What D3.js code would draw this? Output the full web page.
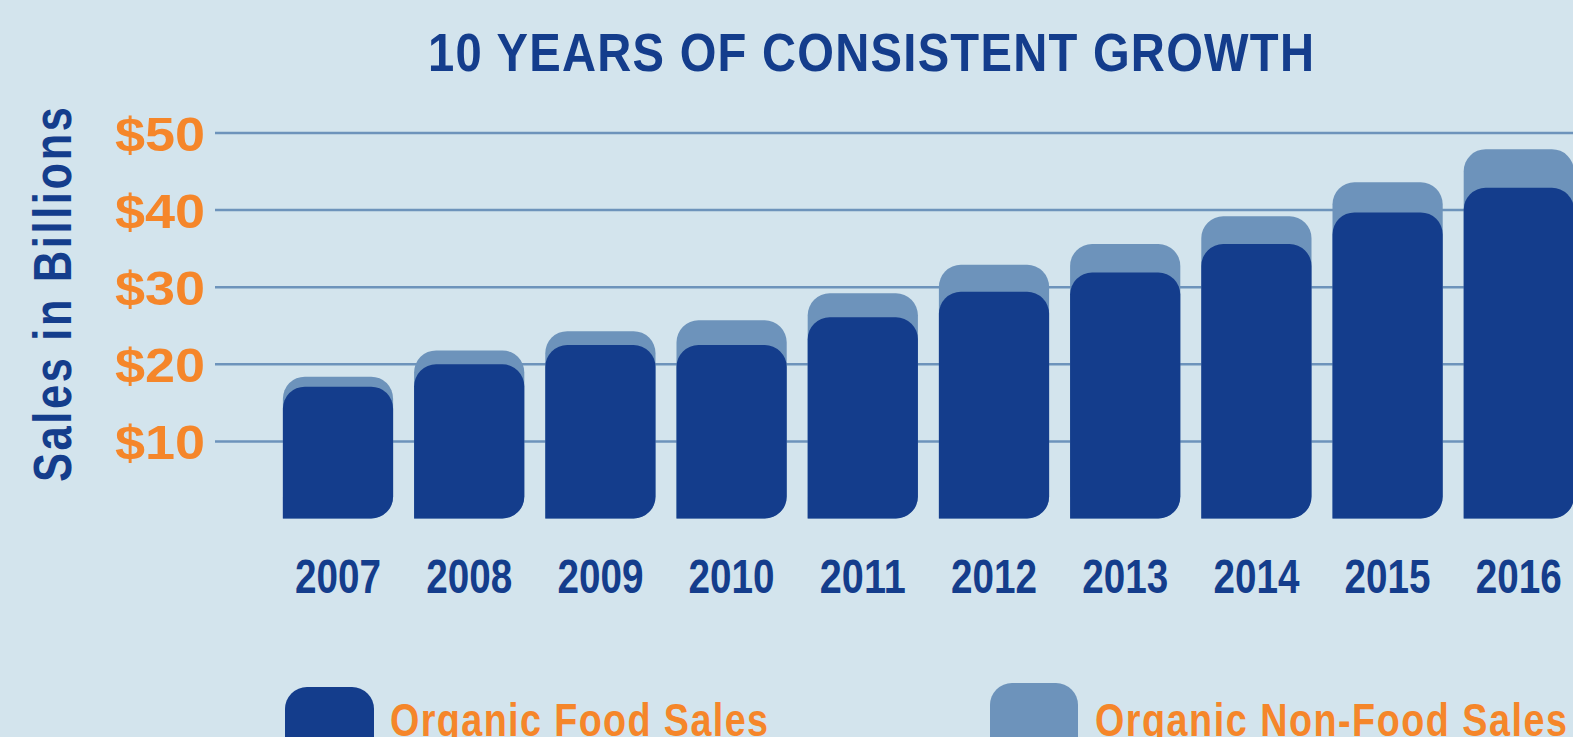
<!DOCTYPE html>
<html>
<head>
<meta charset="utf-8">
<script src="https://cdn.jsdelivr.net/npm/d3@7"></script>
<style>
  html, body { margin: 0; padding: 0; background: #d3e4ed; overflow: hidden; }
  svg { display: block; }
</style>
</head>
<body>
<svg id="chart" width="1573" height="737"></svg>
<script>
// ---- data ----
const years = ["2007", "2008", "2009", "2010", "2011", "2012", "2013", "2014", "2015", "2016"];
const foodSales = [17.1, 20.0, 22.5, 22.5, 26.1, 29.4, 31.9, 35.6, 39.7, 42.9];
const nonFoodSales = [1.3, 1.8, 1.8, 3.2, 3.1, 3.5, 3.7, 3.6, 3.9, 5.0];
const yTicks = [10, 20, 30, 40, 50];
const seriesNames = ["Organic Food Sales", "Organic Non-Food Sales"];
const titleText = "10 YEARS OF CONSISTENT GROWTH";
const yAxisTitle = "Sales in Billions";

// ---- styles ----
const C = {
  bg: "#d3e4ed",
  food: "#143d8c",
  nonFood: "#6d93bb",
  orange: "#f5862a",
  navy: "#143d8c",
  grid: "#6d93bb"
};
const FONT = "'Liberation Sans', Arial, sans-serif";

const svg = d3.select("#chart");
svg.append("rect").attr("width", 1573).attr("height", 737).attr("fill", C.bg);

const x = d3.scaleBand().domain(years).range([272.4, 1584.4]).paddingInner(0.16).paddingOuter(0.08);
const y = d3.scaleLinear().domain([0, 50]).range([518.5, 133]);

const rows = years.map((yr, i) => ({ year: yr, food: foodSales[i], nonFood: nonFoodSales[i] }));
const stack = d3.stack().keys(["food", "nonFood"]);
const layers = stack(rows);

// rounded bar: TL, TR, BR rounded, BL square
function barPath(x0, x1, yTop, yBot, r) {
  const p = d3.path();
  p.moveTo(x0, yBot);
  p.lineTo(x0, yTop + r);
  p.arcTo(x0, yTop, x0 + r, yTop, r);
  p.lineTo(x1 - r, yTop);
  p.arcTo(x1, yTop, x1, yTop + r, r);
  p.lineTo(x1, yBot - r);
  p.arcTo(x1, yBot, x1 - r, yBot, r);
  p.closePath();
  return p.toString();
}
function topRounded(x0, x1, yTop, yBot, r) {
  const p = d3.path();
  p.moveTo(x0, yBot);
  p.lineTo(x0, yTop + r);
  p.arcTo(x0, yTop, x0 + r, yTop, r);
  p.lineTo(x1 - r, yTop);
  p.arcTo(x1, yTop, x1, yTop + r, r);
  p.lineTo(x1, yBot);
  p.closePath();
  return p.toString();
}

// condensed text with tracking: glyphs scaled by sx, spacing filled to target width
function condText(parent, tx, ty, rot, anchor, str, size, width, color, sx) {
  const g = parent.append("g")
    .attr("transform", `translate(${tx},${ty}) rotate(${rot}) scale(${sx},1)`);
  g.append("text")
    .attr("x", 0).attr("y", 0)
    .attr("text-anchor", anchor)
    .attr("font-family", FONT).attr("font-weight", "bold")
    .attr("font-size", size).attr("fill", color)
    .attr("textLength", width / sx).attr("lengthAdjust", "spacing")
    .text(str);
  return g;
}

// ---- title ----
condText(svg, 871, 71, 0, "middle", titleText, 53, 886, C.navy, 0.89);

// ---- y axis title ----
condText(svg, 71, 294.5, -90, "middle", yAxisTitle, 53, 375, C.navy, 0.82);

// ---- gridlines ----
svg.append("g").selectAll("line").data(yTicks).join("line")
  .attr("x1", 215).attr("x2", 1573)
  .attr("y1", d => y(d)).attr("y2", d => y(d))
  .attr("stroke", C.grid).attr("stroke-width", 2.5);

// ---- y axis labels ----
const yAxis = d3.axisLeft(y).tickValues(yTicks).tickSize(0).tickPadding(0).tickFormat(d => "$" + d);
const gy = svg.append("g").attr("transform", "translate(205,0)").call(yAxis);
gy.select(".domain").remove();
gy.selectAll("text")
  .attr("x", 0).attr("dy", 17)
  .attr("font-family", FONT).attr("font-weight", "bold")
  .attr("font-size", 48).attr("fill", C.orange)
  .attr("textLength", 90).attr("lengthAdjust", "spacingAndGlyphs");

// ---- bars ----
const R = 22;
const nonFoodLayer = layers[1];
const foodLayer = layers[0];
svg.append("g").selectAll("path").data(nonFoodLayer).join("path")
  .attr("d", d => barPath(x(d.data.year), x(d.data.year) + x.bandwidth(), y(d[1]), y(0), R))
  .attr("fill", C.nonFood);
svg.append("g").selectAll("path").data(foodLayer).join("path")
  .attr("d", d => barPath(x(d.data.year), x(d.data.year) + x.bandwidth(), y(d[1]), y(d[0]), R))
  .attr("fill", C.food);

// ---- x axis labels ----
const xAxis = d3.axisBottom(x).tickSize(0).tickPadding(0);
const gx = svg.append("g").attr("transform", "translate(0,593)").call(xAxis);
gx.select(".domain").remove();
gx.selectAll("text")
  .attr("y", 0).attr("dy", 0)
  .attr("font-family", FONT).attr("font-weight", "bold")
  .attr("font-size", 49).attr("fill", C.navy)
  .attr("textLength", 86).attr("lengthAdjust", "spacingAndGlyphs");

// ---- legend ----
const legendItems = [
  { name: seriesNames[0], color: C.food, sx0: 285, sx1: 374, sTop: 687, tx: 390, tw: 378 },
  { name: seriesNames[1], color: C.nonFood, sx0: 990, sx1: 1078, sTop: 683, tx: 1095, tw: 472 }
];
const lg = svg.append("g");
lg.selectAll("path").data(legendItems).join("path")
  .attr("d", d => topRounded(d.sx0, d.sx1, d.sTop, 760, R))
  .attr("fill", d => d.color);
legendItems.forEach(d => condText(lg, d.tx, 736, 0, "start", d.name, 46, d.tw, C.orange, 0.82));
</script>
</body>
</html>
